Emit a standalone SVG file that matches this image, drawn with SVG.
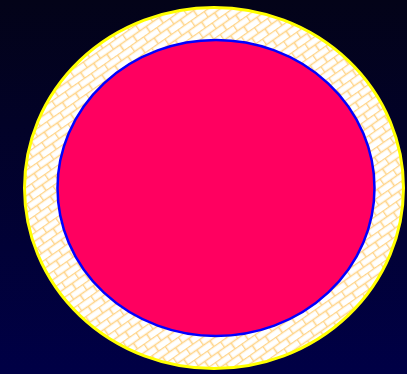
<svg xmlns="http://www.w3.org/2000/svg" width="407" height="374" viewBox="0 0 407 374">
<defs>
<linearGradient id="bg" x1="0" y1="0" x2="0" y2="1">
<stop offset="0" stop-color="#030318"/>
<stop offset="1" stop-color="#000046"/>
</linearGradient>
<pattern id="brick" width="16" height="14" patternUnits="userSpaceOnUse" patternTransform="rotate(-35)">
<rect width="16" height="14" fill="#ffffff"/>
<path d="M0 0.5H16M0 7.5H16M0.5 0.5V7.5M8.5 7.5V14.5" stroke="#ffd488" stroke-width="1.6" fill="none"/>
</pattern>
<style>
.outer{fill:url(#brick);stroke:#ffff00;stroke-width:3}
.inner{fill:#ff0060;stroke:#0000ff;stroke-width:2.5}
</style>
</defs>
<rect width="407" height="374" fill="url(#bg)"/>
<g id="outer-ring"><ellipse class="outer" cx="214" cy="188" rx="189.5" ry="180.5"/></g>
<g id="inner-disc"><ellipse class="inner" cx="216" cy="188" rx="158.5" ry="148"/></g>
</svg>
